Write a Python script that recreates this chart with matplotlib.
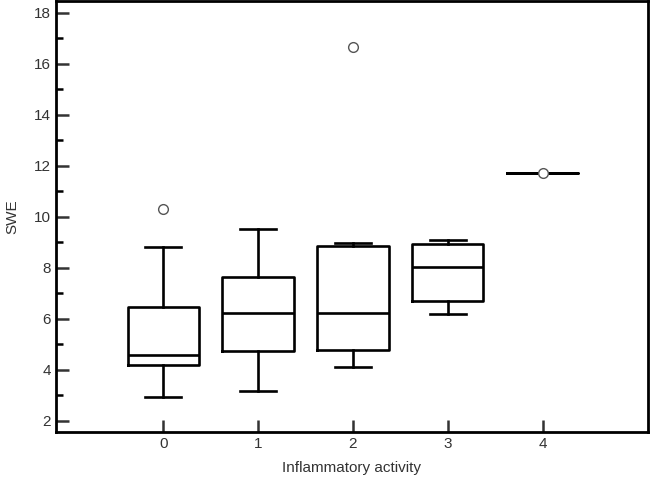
import matplotlib
matplotlib.use("Agg")
import matplotlib.pyplot as plt
from matplotlib.ticker import MultipleLocator

plt.rcParams['font.family'] = ['Liberation Sans', 'DejaVu Sans']

groups = [0, 1, 2, 3, 4]
whislo = [2.94, 3.15, 4.10, 6.17, 11.71]
q1 = [4.17, 4.73, 4.77, 6.69, 11.71]
med = [4.59, 6.24, 6.21, 8.04, 11.71]
q3 = [6.47, 7.63, 8.84, 8.93, 11.71]
whishi = [8.80, 9.53, 8.97, 9.07, 11.71]
fliers = [[10.31], [], [16.67], [], [11.71]]

stats = []
for i in range(len(groups)):
    stats.append(dict(whislo=whislo[i], q1=q1[i], med=med[i], q3=q3[i],
                      whishi=whishi[i], fliers=fliers[i]))

fig = plt.figure(figsize=(6.5, 4.78), dpi=100)
ax = fig.add_axes([56/650, 46/478, 592/650, 431/478])

lw = 1.9
ax.bxp(stats, positions=groups, widths=0.75, showcaps=True,
       boxprops=dict(color='black', linewidth=lw),
       whiskerprops=dict(color='black', linewidth=lw),
       capprops=dict(color='black', linewidth=lw),
       medianprops=dict(color='black', linewidth=lw),
       capwidths=0.38,
       flierprops=dict(marker='o', markerfacecolor='white', markeredgecolor='#555555',
                       markersize=7, markeredgewidth=1.0, zorder=5))

ax.set_xlim(-1.13, 5.11)
ax.set_ylim(1.55, 18.47)
ax.set_xticks(groups)
ax.set_xticklabels([str(g) for g in groups])
ax.yaxis.set_major_locator(MultipleLocator(2))
ax.yaxis.set_minor_locator(MultipleLocator(1))
ax.tick_params(axis='both', direction='in', width=1.8, length=9, labelsize=11, colors='#333333')
ax.tick_params(axis='y', which='minor', direction='in', width=1.8, length=5)
ax.tick_params(axis='x', top=False)
ax.tick_params(axis='y', right=False)
for s in ax.spines.values():
    s.set_linewidth(2)

ax.set_xlabel('Inflammatory activity', fontsize=11, color='#333333', labelpad=7)
ax.set_ylabel('SWE', fontsize=11, color='#333333', labelpad=11)

fig.savefig('out.png', dpi=100)
